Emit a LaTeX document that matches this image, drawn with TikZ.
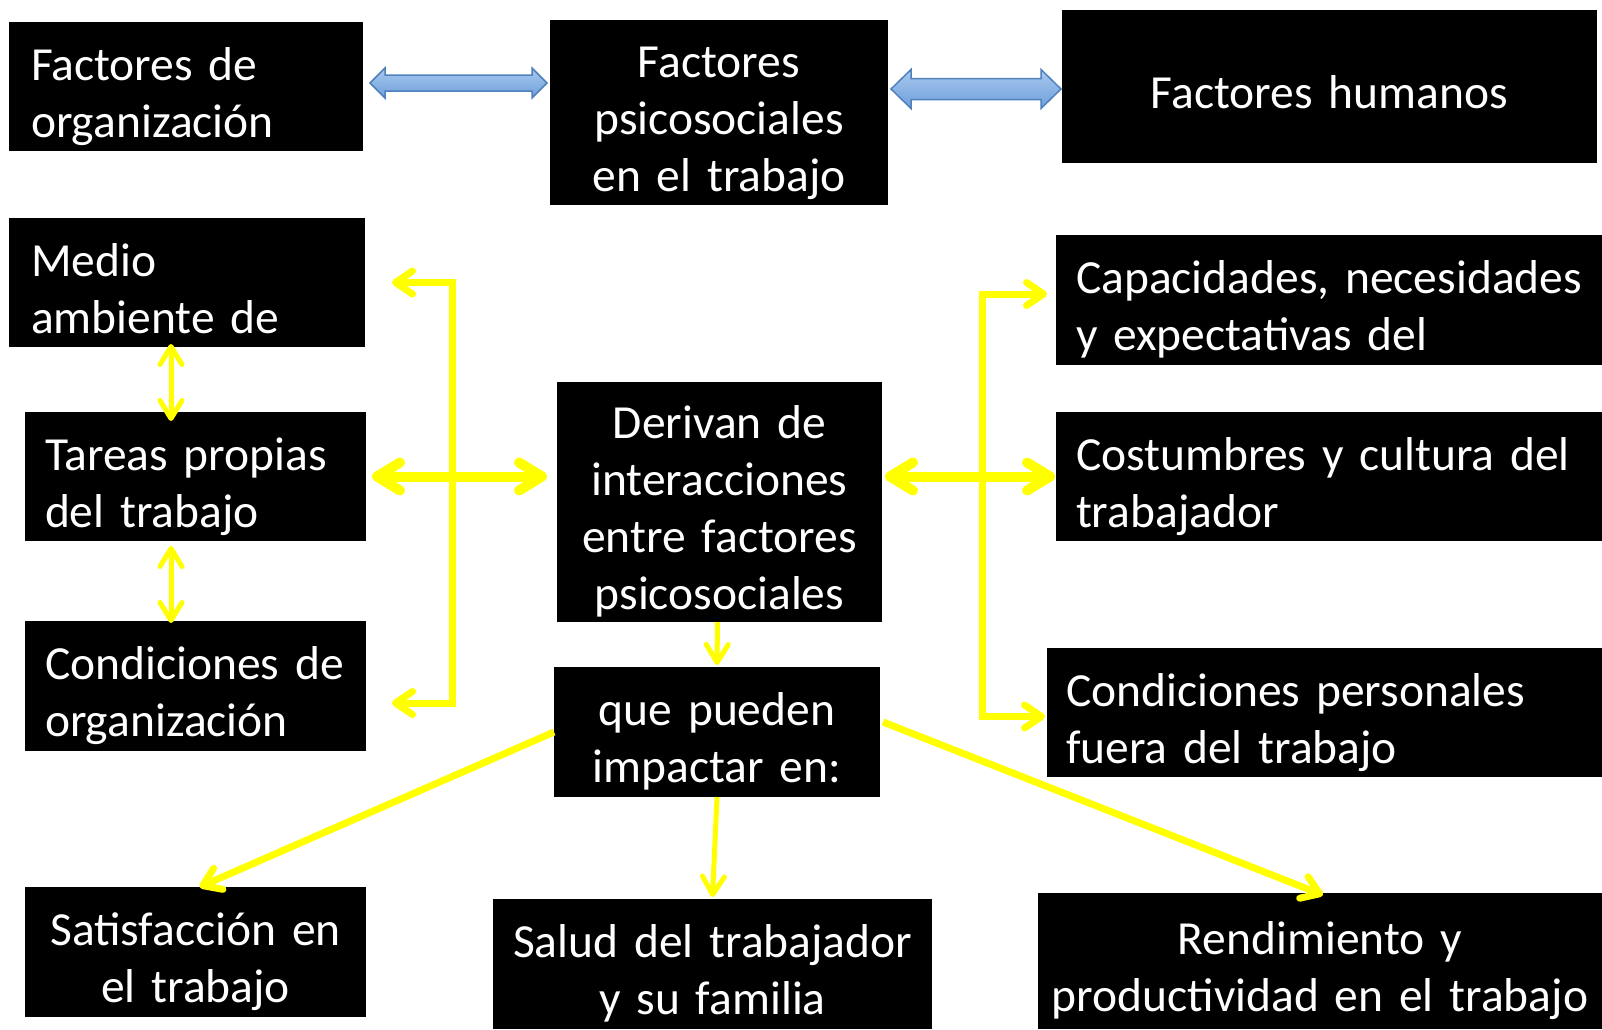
\documentclass[tikz,border=0pt]{standalone}
\usepackage{fontspec}
\setmainfont{Carlito}[WordSpace=0.9]
\usetikzlibrary{arrows.meta,calc}
\definecolor{ylw}{HTML}{FFFF00}
\definecolor{blueT}{HTML}{A9C9EF}
\definecolor{blueB}{HTML}{6E9FDB}
\definecolor{blueD}{HTML}{4F81BD}
\newcommand\bluedbl[5]{%
  \draw[bluearr] ($#1$) -- ($#1+(#5,-#4)$) -- ($#1+(#5,-#3)$) -- ($#2+(-#5,-#3)$)
    -- ($#2+(-#5,-#4)$) -- ($#2$) -- ($#2+(-#5,#4)$) -- ($#2+(-#5,#3)$)
    -- ($#1+(#5,#3)$) -- ($#1+(#5,#4)$) -- cycle;}
\hyphenpenalty=10000
\exhyphenpenalty=10000
\begin{document}
\begin{tikzpicture}[x=1pt,y=-1pt,
  box/.style={fill=black, text=white, inner ysep=0pt, inner xsep=20pt, outer sep=0pt,
    font=\fontsize{47.5}{57}\selectfont,
    execute at begin node={\rule{0pt}{54pt}},
    execute at end node={\rule[-10pt]{0pt}{0pt}}},
  cbox/.style={box, align=center},
  lbox/.style={box, align=left},
  bluearr/.style={top color=blueT, bottom color=blueB, draw=blueD, line width=1.5pt, line join=miter},
  yl/.style={draw=ylw, line join=miter, line cap=butt},
  y5/.style={yl, line width=5pt, >={Straight Barb[length=18pt,width=22pt,line cap=round,line join=round]}},
  y7/.style={yl, line width=7pt, >={Straight Barb[length=17pt,width=23pt,line cap=round,line join=round]}},
  y10/.style={yl, line width=10pt, >={Straight Barb[length=23pt,width=28pt,line cap=round,line join=round]}},
]
\useasboundingbox[fill=white] (0,0) rectangle (1602,1029);

% top row
\node[lbox, inner xsep=22pt, text width=310pt, minimum height=129pt] (A) at (186,86.5) {Factores~de\\organización};
\node[cbox, text width=298pt, minimum height=185pt] (B) at (719,112.5) {Factores\\psicosociales\\en~el~trabajo};
\node[cbox, text width=495pt, minimum height=153pt] (C) at (1329.5,86.5) {Factores~humanos};

% left column
\node[lbox, inner xsep=22pt, text width=312pt, minimum height=129pt] (D) at (187,282.5) {Medio\\ambiente~de};
\node[lbox, text width=301pt, minimum height=129pt] (E) at (195.5,476.5) {Tareas~propias\\del~trabajo};
\node[lbox, text width=301pt, minimum height=130pt] (F) at (195.5,686) {Condiciones~de\\organización};

% centre column
\node[cbox, text width=285pt, minimum height=240pt] (G) at (719.5,502) {Derivan~de\\interacciones\\entre~factores\\psicosociales};
\node[cbox, text width=286pt, minimum height=130pt] (H) at (717,732) {que~pueden\\impactar~en:};

% right column
\node[lbox, text width=506pt, minimum height=130pt] (I) at (1329,300) {Capacidades,~necesidades\\y~expectativas~del};
\node[lbox, text width=506pt, minimum height=129pt] (J) at (1329,476.5) {Costumbres~y~cultura~del\\trabajador};
\node[lbox, inner xsep=19pt, text width=517pt, minimum height=129pt] (K) at (1324.5,712.5) {Condiciones~personales\\fuera~del~trabajo};

% bottom row
\node[cbox, text width=301pt, minimum height=130pt] (L) at (195.5,952) {Satisfacción~en\\el~trabajo};
\node[cbox, text width=399pt, minimum height=130pt] (M) at (712.5,964) {Salud~del~trabajador\\y~su~familia};
\node[cbox, inner xsep=10pt, text width=544pt, minimum height=136pt] (N) at (1320,961) {Rendimiento~y\\productividad~en~el~trabajo};

% blue double arrows
\coordinate (ab1) at ($(A.east |- 0,83)+(7,0)$);
\coordinate (ab2) at ($(B.west |- 0,83)+(-3,0)$);
\coordinate (bc1) at ($(B.east |- 0,89)+(3,0)$);
\coordinate (bc2) at ($(C.west |- 0,89)+(-1,0)$);
\bluedbl{(ab1)}{(ab2)}{8}{15}{15}
\bluedbl{(bc1)}{(bc2)}{10.5}{19.5}{20}

% left bracket
\coordinate (lbx) at (452,0);
\coordinate (tD) at ($(D.east)+(27,0)$);
\coordinate (tF) at ($(F.east)+(26,17)$);
\draw[y7,<->] (tD) -- (lbx |- tD) -- (lbx |- tF) -- (tF);
\draw[y10,<->] ($(E.east)+(6,0)$) -- ($(G.west |- E.east)+(-10,0)$);
\draw[y5,<->] ($(D.south)+(-16,-3)$) -- ($(E.north)+(-24.5,9)$);
\draw[y5,<->] ($(E.south)+(-24.5,5)$) -- ($(F.north)+(-24.5,2)$);

% right bracket
\coordinate (rbx) at (982,0);
\coordinate (tI) at ($(I.west)+(-9,-6)$);
\coordinate (tK) at ($(K.west)+(-2,4)$);
\draw[y7,<->] (tI) -- (rbx |- tI) -- (rbx |- tK) -- (tK);
\draw[y10,<->] ($(G.east |- J.west)+(3,0)$) -- ($(J.west)+(-1,0)$);

% centre and bottom arrows
\draw[y5,->] ($(G.south)+(-2,0)$) -- ($(H.north)+(0,-2)$);
\draw[y7,->] (H.west) -- ($(L.north)+(4,0)$);
\draw[y5,->] (H.south) -- ($(M.north)+(0,-2)$);
\draw[y7,->] ($(H.east)+(3,-10)$) -- ($(N.north)+(3,2)$);
\end{tikzpicture}
\end{document}
